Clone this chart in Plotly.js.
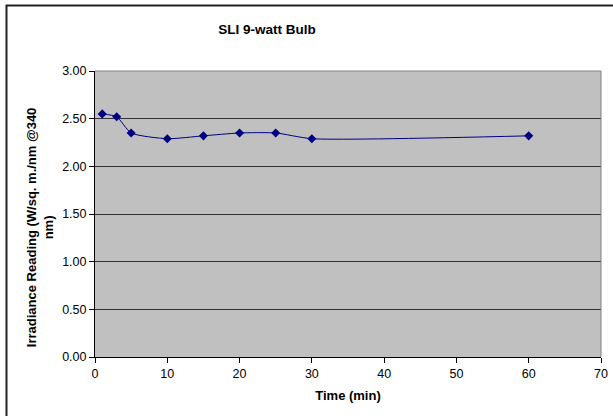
<!DOCTYPE html>
<html>
<head>
<meta charset="utf-8">
<script src="https://cdn.plot.ly/plotly-3.0.1.min.js"></script>
<style>html,body{margin:0;padding:0;background:#fff;}#chart{width:613px;height:416px;}</style>
</head>
<body>
<div id="chart"></div>
<script>
const timeMin = [1, 3, 5, 10, 15, 20, 25, 30, 60];
const irradiance = [2.55, 2.52, 2.35, 2.29, 2.32, 2.35, 2.35, 2.29, 2.32];
const xTicks = [0, 10, 20, 30, 40, 50, 60, 70];
const yTicks = [0, 0.5, 1.0, 1.5, 2.0, 2.5, 3.0];

const trace = {
  x: timeMin,
  y: irradiance,
  type: 'scatter',
  mode: 'lines+markers',
  line: {color: '#000080', width: 1, shape: 'spline', smoothing: 0.6},
  marker: {symbol: 'diamond', size: 7, color: '#000080'},
  hoverinfo: 'x+y'
};

const fam = 'Liberation Sans, Arial, sans-serif';
const plotL = 95, plotR = 601, plotT = 71, plotB = 356.7;
const pw = plotR - plotL, ph = plotB - plotT;
const px = p => (p - plotL) / pw;
const py = p => (plotB - p) / ph;

const layout = {
  width: 613, height: 416,
  margin: {l: 95, r: 12, t: 71, b: 59},
  paper_bgcolor: '#ffffff',
  plot_bgcolor: '#c0c0c0',
  showlegend: false,
  font: {family: fam, size: 12.5, color: '#000'},
  title: {
    text: '<b>SLI 9-watt Bulb</b>',
    font: {family: fam, size: 13.5, color: '#000'},
    x: 267 / 613, xref: 'container', xanchor: 'center',
    y: 1 - 29 / 416, yref: 'container', yanchor: 'middle'
  },
  xaxis: {
    range: [0, 70],
    tickvals: xTicks,
    ticktext: xTicks.map(String),
    ticks: 'outside', ticklen: 5, tickcolor: '#000',
    showgrid: false, zeroline: false,
    showline: true, linecolor: '#000', linewidth: 1,
    tickfont: {family: fam, size: 12.5, color: '#000'},
    title: {text: '<b>Time (min)</b>', font: {family: fam, size: 13, color: '#000'}, standoff: 10}
  },
  yaxis: {
    range: [0, 3],
    tickvals: yTicks,
    ticktext: yTicks.map(v => v.toFixed(2)),
    ticks: 'outside', ticklen: 5, tickcolor: '#000',
    showgrid: true, gridcolor: '#333333', gridwidth: 1,
    zeroline: false,
    showline: true, linecolor: '#000', linewidth: 1,
    tickfont: {family: fam, size: 12.5, color: '#000'}
  },
  annotations: [
    {text: '<b>Irradiance Reading (W/sq. m./nm @340<br>nm)</b>',
     xref: 'paper', yref: 'paper', x: px(40), y: py(227),
     xanchor: 'center', yanchor: 'middle', textangle: -90, showarrow: false,
     font: {family: fam, size: 13, color: '#000'}}
  ],
  shapes: [
    {type: 'line', xref: 'paper', yref: 'paper', x0: 0, x1: 1, y0: 1, y1: 1, line: {color: '#808080', width: 1}},
    {type: 'line', xref: 'paper', yref: 'paper', x0: 1, x1: 1, y0: 0, y1: 1, line: {color: '#808080', width: 1}},
    {type: 'rect', xref: 'paper', yref: 'paper',
     x0: px(6.5), x1: 1.1, y0: -0.3, y1: py(5.5),
     line: {color: '#222', width: 2}, fillcolor: 'rgba(0,0,0,0)', layer: 'below'}
  ]
};

Plotly.newPlot('chart', [trace], layout, {displayModeBar: false, staticPlot: true});
</script>
</body>
</html>
